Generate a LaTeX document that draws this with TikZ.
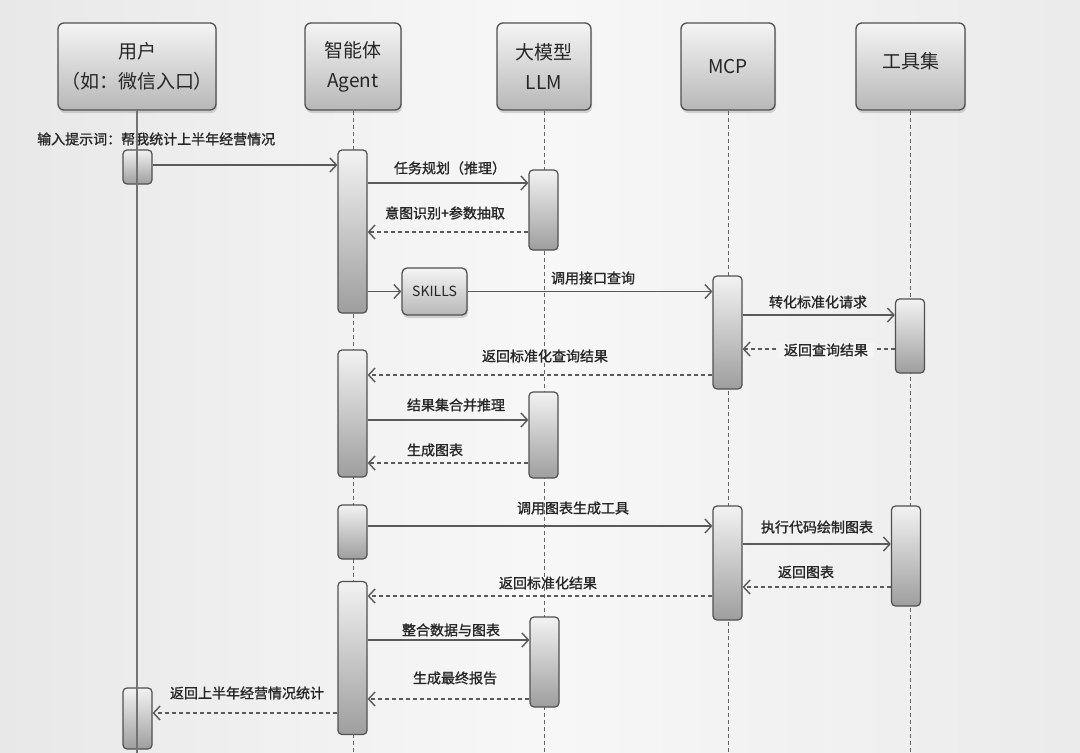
\documentclass[tikz,border=0pt]{standalone}
\usepackage{fontspec}
\setmainfont{Noto Sans CJK SC}
\newfontfamily\lblfont{Noto Sans CJK SC}[FakeBold=1.2]
\usetikzlibrary{arrows.meta,shadows}
\definecolor{bgc}{HTML}{F2F2F2}
\definecolor{edgec}{HTML}{505050}
\definecolor{txtc}{HTML}{262626}
\definecolor{linec}{HTML}{5A5A5A}
\begin{document}
\begin{tikzpicture}[x=1pt,y=-1pt,
 head/.style={draw=edgec, line width=1.3pt, rounded corners=6pt, top color=white!96!black, bottom color=black!28, inner sep=0pt, align=center, text=txtc, font=\fontsize{19}{30}\selectfont, drop shadow={shadow xshift=1pt,shadow yshift=-3pt,opacity=0.3}},
 act/.style={draw=edgec, line width=1.2pt, rounded corners=4pt, top color=white!95!black, bottom color=black!38, minimum width=29pt, inner sep=0pt},
 msg/.style={draw=linec, line width=1.4pt, -{Straight Barb[length=6.5pt,width=14pt,line width=1.4pt]}},
 ret/.style={msg, dash pattern=on 4pt off 3pt},
 lbl/.style={text=txtc, font=\lblfont\fontsize{14}{16}\selectfont, inner sep=1pt},
 life/.style={draw=black!60, line width=1pt, dash pattern=on 4pt off 3pt},
]
\useasboundingbox (0,0) rectangle (1080,753);
\shade[left color=black!9, right color=black!8, middle color=black!3] (0,0) rectangle (1080,753);

% headers
\node[head, minimum width=158pt, minimum height=87pt] (user) at (137,66.5) {用户\\（如：微信入口）};
\node[head, minimum width=96pt, minimum height=87pt] (agent) at (353,66.5) {智能体\\Agent};
\node[head, minimum width=94pt, minimum height=87pt] (llm) at (544,66.5) {大模型\\LLM};
\node[head, minimum width=94pt, minimum height=87pt] (mcp) at (728,66.5) {MCP};
\node[head, minimum width=109pt, minimum height=87pt] (tools) at (910.5,66.5) {\raisebox{12pt}{工具集}};

% lifelines (dashed)
\draw[life] (agent.south) -- (agent.south |- 0,753);
\draw[life] (llm.south) -- (llm.south |- 0,753);
\draw[life] (mcp.south) -- (mcp.south |- 0,753);
\draw[life] (tools.south) -- (tools.south |- 0,753);

% activations
\node[act, minimum height=34pt] (u1) at (137.5,167) {};
\node[act, minimum height=61pt] (u2) at (137.5,718.5) {};
\node[act, minimum height=163pt] (a1) at (352.5,231.5) {};
\node[act, minimum height=127pt] (a2) at (352.5,413.5) {};
\node[act, minimum height=54pt] (a3) at (352.5,532) {};
\node[act, minimum height=153pt] (a4) at (352.5,658) {};
\node[act, minimum height=80pt] (l1) at (543.5,210) {};
\node[act, minimum height=86pt] (l2) at (543.5,435) {};
\node[act, minimum height=90pt] (l3) at (544.5,662) {};
\node[act, minimum height=113pt] (m1) at (727.5,332.5) {};
\node[act, minimum height=114pt] (m2) at (727.5,563) {};
\node[act, minimum height=74pt] (t1) at (910,336) {};
\node[act, minimum height=100pt] (t2) at (906,556) {};

\node[head, rounded corners=5pt, minimum width=65pt, minimum height=47pt, font=\fontsize{14}{16}\selectfont] (skills) at (434.5,291.5) {SKILLS};

% labels
\node[lbl, anchor=west] (m1l) at (36,139) {输入提示词：帮我统计上半年经营情况};
\node[lbl] (m2l) at (450,168) {任务规划（推理）};
\node[lbl] (m3l) at (445,213) {意图识别+参数抽取};
\node[lbl] (m5l) at (593,278) {调用接口查询};
\node[lbl] (m6l) at (818,302) {转化标准化请求};
\node[lbl] (m8l) at (545,356) {返回标准化查询结果};
\node[lbl] (m9l) at (456,405) {结果集合并推理};
\node[lbl] (m10l) at (435,450) {生成图表};
\node[lbl] (m11l) at (573,508) {调用图表生成工具};
\node[lbl] (m12l) at (817,527) {执行代码绘制图表};
\node[lbl] (m13l) at (806,572) {返回图表};
\node[lbl] (m14l) at (548,583) {返回标准化结果};
\node[lbl] (m15l) at (451,630) {整合数据与图表};
\node[lbl] (m16l) at (455,678) {生成最终报告};
\node[lbl] (m17l) at (247,693) {返回上半年经营情况统计};

% user lifeline (solid, on top)
\draw[draw=black!55, line width=1.2pt] (user.south) -- (user.south |- 0,753);

% messages
\draw[msg] (u1.east |- 0,165) -- (a1.west |- 0,165);
\draw[msg] (a1.east |- 0,183) -- (l1.west |- 0,183);
\draw[ret] (l1.west |- 0,232) -- (a1.east |- 0,232);
\draw[msg] (a1.east |- skills.west) -- (skills.west);
\draw[msg] (skills.east) -- (m1.west |- skills.east);
\draw[msg] (m1.east |- 0,315) -- (t1.west |- 0,315);
\draw[ret] (t1.west |- 0,349) -- (m1.east |- 0,349);
\node[lbl, fill=black!4, inner xsep=6pt] (m7l) at (826,350) {返回查询结果};
\draw[ret] (m1.west |- 0,375) -- (a2.east |- 0,375);
\draw[msg] (a2.east |- 0,420) -- (l2.west |- 0,420);
\draw[ret] (l2.west |- 0,463) -- (a2.east |- 0,463);
\draw[msg] (a3.east |- 0,526) -- (m2.west |- 0,526);
\draw[msg] (m2.east |- 0,544) -- (t2.west |- 0,544);
\draw[ret] (t2.west |- 0,587) -- (m2.east |- 0,587);
\draw[ret] (m2.west |- 0,596) -- (a4.east |- 0,596);
\draw[msg] (a4.east |- 0,640) -- (l3.west |- 0,640);
\draw[ret] (l3.west |- 0,699) -- (a4.east |- 0,699);
\draw[ret] (a4.west |- 0,713) -- (u2.east |- 0,713);
\end{tikzpicture}
\end{document}
